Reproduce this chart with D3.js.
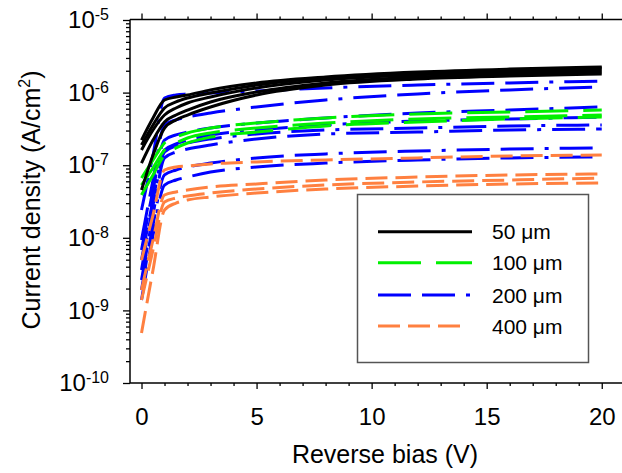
<!DOCTYPE html>
<html>
<head>
<meta charset="utf-8">
<script src="https://cdn.jsdelivr.net/npm/d3@7"></script>
<style>
  body { margin: 0; background: #fff; }
  svg { display: block; font-family: "Liberation Sans", Arial, sans-serif; }
</style>
</head>
<body>
<svg id="chart" width="622" height="473"></svg>
<script>
// Reverse bias sweep points (V)
const voltage = [0, 0.5, 1, 1.5, 2, 3, 5, 8, 12, 16, 20];

// Current density (A/cm^2) per device, grouped by size
const j50 = [
  [2.22e-7, 4.47e-7, 7.91e-7, 8.69e-7, 9.27e-7, 1.09e-6, 1.36e-6, 1.64e-6, 1.92e-6, 2.11e-6, 2.25e-6],
  [1.90e-7, 3.58e-7, 6.14e-7, 7.43e-7, 8.43e-7, 9.87e-7, 1.27e-6, 1.59e-6, 1.80e-6, 1.99e-6, 2.18e-6],
  [1.62e-7, 3.05e-7, 4.91e-7, 6.14e-7, 7.19e-7, 8.69e-7, 1.16e-6, 1.49e-6, 1.75e-6, 1.92e-6, 2.05e-6],
  [1.07e-7, 2.22e-7, 3.94e-7, 4.91e-7, 5.75e-7, 7.43e-7, 1.02e-6, 1.36e-6, 1.64e-6, 1.80e-6, 1.92e-6],
  [4.55e-8, 1.38e-7, 3.25e-7, 4.20e-7, 4.91e-7, 6.34e-7, 9.27e-7, 1.27e-6, 1.54e-6, 1.69e-6, 1.80e-6]
];
const j100 = [
  [6.67e-8, 1.18e-7, 2.02e-7, 2.44e-7, 2.78e-7, 3.25e-7, 3.81e-7, 4.47e-7, 5.07e-7, 5.41e-7, 5.75e-7],
  [5.33e-8, 9.14e-8, 1.62e-7, 2.02e-7, 2.37e-7, 2.78e-7, 3.25e-7, 3.81e-7, 4.33e-7, 4.61e-7, 4.91e-7],
  [3.89e-8, 7.33e-8, 1.38e-7, 1.73e-7, 2.02e-7, 2.44e-7, 2.86e-7, 3.47e-7, 3.94e-7, 4.33e-7, 4.61e-7]
];
const j200 = [
  [2.42e-8, 1.38e-7, 8.43e-7, 9.27e-7, 9.57e-7, 9.87e-7, 1.05e-6, 1.16e-6, 1.27e-6, 1.36e-6, 1.44e-6],
  [9.33e-9, 6.25e-8, 3.58e-7, 4.20e-7, 4.61e-7, 5.24e-7, 6.34e-7, 7.91e-7, 9.57e-7, 1.09e-6, 1.19e-6],
  [6.79e-9, 4.55e-8, 2.22e-7, 2.61e-7, 2.86e-7, 3.25e-7, 3.81e-7, 4.47e-7, 5.24e-7, 5.75e-7, 6.34e-7],
  [4.94e-9, 3.32e-8, 1.62e-7, 1.96e-7, 2.22e-7, 2.61e-7, 3.05e-7, 3.58e-7, 4.06e-7, 4.33e-7, 4.61e-7],
  [3.60e-9, 2.83e-8, 1.52e-7, 1.84e-7, 2.02e-7, 2.30e-7, 2.69e-7, 3.05e-7, 3.25e-7, 3.47e-7, 3.58e-7],
  [2.62e-9, 2.06e-8, 1.26e-7, 1.52e-7, 1.67e-7, 1.90e-7, 2.30e-7, 2.69e-7, 2.86e-7, 3.05e-7, 3.15e-7],
  [1.91e-9, 1.50e-8, 7.33e-8, 8.59e-8, 9.45e-8, 1.07e-7, 1.26e-7, 1.43e-7, 1.57e-7, 1.67e-7, 1.73e-7],
  [1.39e-9, 1.09e-8, 5.33e-8, 6.25e-8, 6.87e-8, 8.05e-8, 9.45e-8, 1.07e-7, 1.18e-7, 1.26e-7, 1.30e-7]
];
const j400 = [
  [4.94e-9, 2.06e-8, 8.59e-8, 9.45e-8, 9.75e-8, 1.04e-7, 1.11e-7, 1.18e-7, 1.26e-7, 1.34e-7, 1.38e-7],
  [1.91e-9, 9.33e-9, 3.89e-8, 4.28e-8, 4.55e-8, 5.01e-8, 5.51e-8, 6.25e-8, 6.87e-8, 7.33e-8, 7.57e-8],
  [1.39e-9, 6.79e-9, 3.11e-8, 3.53e-8, 3.77e-8, 4.14e-8, 4.70e-8, 5.33e-8, 5.87e-8, 6.25e-8, 6.67e-8],
  [4.89e-10, 3.60e-9, 2.42e-8, 3.01e-8, 3.32e-8, 3.65e-8, 4.14e-8, 4.70e-8, 5.16e-8, 5.51e-8, 5.69e-8]
];

const legendLabels = ["50 \u03bcm", "100 \u03bcm", "200 \u03bcm", "400 \u03bcm"];
const xMajorTicks = [0, 5, 10, 15, 20];
const yDecadeExponents = [-10, -9, -8, -7, -6, -5];

// Line styles per size group
const styles = [
  { data: j50,  color: "#000000", dash: null,                  legendEnd: 472 },
  { data: j100, color: "#00f000", dash: "43,15",               legendEnd: 472 },
  { data: j200, color: "#0000ff", dash: "33,11,33,11,4,11",    legendEnd: 471 },
  { data: j400, color: "#ff8040", dash: "22,8",                legendEnd: 462 }
];

const svg = d3.select("#chart");
const plotLeft = 130, plotRight = 622, plotTop = 19.5, plotBottom = 383;

const x = d3.scaleLinear().domain([-0.5, 20.88]).range([plotLeft, plotRight]);
const y = d3.scaleLog().domain([1e-10, 1e-5]).range([plotBottom, 20]);

// Clip region for the curves
svg.append("defs").append("clipPath").attr("id", "plotClip")
  .append("rect").attr("x", plotLeft).attr("y", plotTop)
  .attr("width", plotRight - plotLeft).attr("height", plotBottom - plotTop);

const line = d3.line()
  .x((d, i) => x(voltage[i]))
  .y(d => y(d))
  .curve(d3.curveMonotoneX);

const curves = svg.append("g").attr("clip-path", "url(#plotClip)");
// Drawing order: 200, 400, 100, 50
[2, 3, 1, 0].forEach(k => {
  const s = styles[k];
  curves.append("g").selectAll("path").data(s.data).join("path")
    .attr("d", line)
    .attr("fill", "none")
    .attr("stroke", s.color)
    .attr("stroke-width", 3)
    .attr("stroke-dasharray", s.dash)
    .attr("stroke-linejoin", "round");
});

// Bottom axis: major and minor ticks
const xMinor = d3.range(0, 21).filter(v => v % 5 !== 0);
const bottomMajor = svg.append("g").attr("transform", `translate(0,${plotBottom})`)
  .call(d3.axisBottom(x).tickValues(xMajorTicks).tickSize(6).tickPadding(19).tickFormat(d3.format("d")));
const bottomMinor = svg.append("g").attr("transform", `translate(0,${plotBottom})`)
  .call(d3.axisBottom(x).tickValues(xMinor).tickSize(3).tickFormat(""));
// Top axis: ticks only
const topMajor = svg.append("g").attr("transform", `translate(0,${plotTop})`)
  .call(d3.axisTop(x).tickValues(xMajorTicks).tickSize(6).tickFormat(""));
const topMinor = svg.append("g").attr("transform", `translate(0,${plotTop})`)
  .call(d3.axisTop(x).tickValues(xMinor).tickSize(3).tickFormat(""));

// Left axis: decades and minor log ticks
const yMajor = yDecadeExponents.map(e => Math.pow(10, e));
const yMinor = [];
yDecadeExponents.slice(0, -1).forEach(e => {
  for (let m = 2; m <= 9; m++) yMinor.push(m * Math.pow(10, e));
});
const leftMajor = svg.append("g").attr("transform", `translate(${plotLeft},0)`)
  .call(d3.axisLeft(y).tickValues(yMajor).tickSize(7).tickPadding(14));
const leftMinor = svg.append("g").attr("transform", `translate(${plotLeft},0)`)
  .call(d3.axisLeft(y).tickValues(yMinor).tickSize(4).tickFormat(""));

// Power-of-ten labels with superscript exponents
leftMajor.selectAll(".tick text").each(function(d) {
  const t = d3.select(this).text(null).attr("font-size", 24).attr("fill", "#000");
  t.append("tspan").text("10");
  t.append("tspan").text(String(Math.round(Math.log10(d))))
    .attr("font-size", 16).attr("dy", "-8");
});

[bottomMajor, bottomMinor, topMajor, topMinor, leftMajor, leftMinor].forEach(g => {
  g.select(".domain").remove();
  g.selectAll(".tick line").attr("stroke", "#000").attr("stroke-width", 1.3);
});
bottomMajor.selectAll(".tick text").attr("font-size", 24).attr("fill", "#000")
  .attr("font-family", "Liberation Sans, Arial, sans-serif");
leftMajor.selectAll(".tick text").attr("font-family", "Liberation Sans, Arial, sans-serif");

// Axis lines
svg.append("line").attr("x1", plotLeft).attr("x2", plotRight).attr("y1", plotBottom).attr("y2", plotBottom)
  .attr("stroke", "#000").attr("stroke-width", 1.5);
svg.append("line").attr("x1", plotLeft).attr("x2", plotRight).attr("y1", plotTop).attr("y2", plotTop)
  .attr("stroke", "#000").attr("stroke-width", 1.5);
svg.append("line").attr("x1", plotLeft).attr("x2", plotLeft).attr("y1", plotTop).attr("y2", plotBottom)
  .attr("stroke", "#000").attr("stroke-width", 1.5);

// Axis titles
svg.append("text").attr("x", 385).attr("y", 463).attr("text-anchor", "middle")
  .attr("font-size", 25).attr("fill", "#000").text("Reverse bias (V)");

const yTitle = svg.append("text")
  .attr("transform", "translate(40,200) rotate(-90)")
  .attr("text-anchor", "middle").attr("font-size", 25).attr("fill", "#000");
yTitle.append("tspan").text("Current density (A/cm");
yTitle.append("tspan").text("2").attr("font-size", 16).attr("dy", -10);
yTitle.append("tspan").text(")").attr("dy", 10);

// Legend
const legend = svg.append("g");
legend.append("rect").attr("x", 357.5).attr("y", 194.5).attr("width", 231).attr("height", 168)
  .attr("fill", "#fff").attr("stroke", "#555").attr("stroke-width", 1.5);
const legendY = [231.7, 262.7, 295, 326];
styles.forEach((s, i) => {
  legend.append("line").attr("x1", 378).attr("x2", s.legendEnd)
    .attr("y1", legendY[i]).attr("y2", legendY[i])
    .attr("stroke", s.color).attr("stroke-width", 3)
    .attr("stroke-dasharray", s.dash);
  legend.append("text").attr("x", 492).attr("y", legendY[i] + 7.5)
    .attr("font-size", 21).attr("fill", "#000").text(legendLabels[i]);
});
</script>
</body>
</html>
